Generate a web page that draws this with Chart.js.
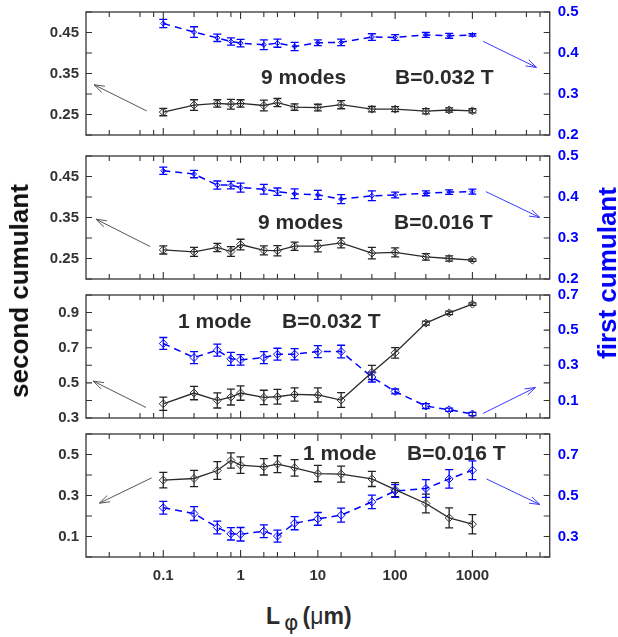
<!DOCTYPE html>
<html><head><meta charset="utf-8">
<script src="https://cdn.jsdelivr.net/npm/chart.js@4/dist/chart.umd.min.js"></script>
<style>
html,body{margin:0;padding:0;background:#fff;}
#wrap{position:relative;width:618px;height:637px;overflow:hidden;background:#fff;font-family:"Liberation Sans",Arial,sans-serif;}
#wrap canvas{position:absolute;left:0;}
.lbl{position:absolute;font-weight:bold;font-size:21px;line-height:21px;color:#2b2b2b;white-space:nowrap;}
.ytitle{position:absolute;font-weight:bold;font-size:26px;line-height:26px;white-space:nowrap;transform:translate(-50%,-50%) rotate(-90deg);}
</style></head><body>
<div id="wrap">
<canvas id="c1"></canvas><canvas id="c2"></canvas><canvas id="c3"></canvas><canvas id="c4"></canvas>
<div class="lbl" style="left:261px;top:66px">9 modes</div>
<div class="lbl" style="left:395px;top:66px">B=0.032 T</div>
<div class="lbl" style="left:258px;top:211px">9 modes</div>
<div class="lbl" style="left:394px;top:211px">B=0.016 T</div>
<div class="lbl" style="left:178px;top:310px">1 mode</div>
<div class="lbl" style="left:282px;top:310px">B=0.032 T</div>
<div class="lbl" style="left:303px;top:442px">1 mode</div>
<div class="lbl" style="left:407px;top:442px">B=0.016 T</div>
<div class="ytitle" style="left:19px;top:291px;color:#111">second cumulant</div>
<div class="ytitle" style="left:607px;top:273px;color:#0000ff">first cumulant</div>
<div style="position:absolute;left:266px;top:605px;font-weight:bold;font-size:23px;line-height:23px;color:#2b2b2b;white-space:nowrap">L<span style="font-weight:normal;font-size:22px;position:relative;top:6px;margin:0 4px 0 4px;font-family:'DejaVu Sans'">φ</span>(<span style="font-weight:normal">μ</span>m)</div>
</div>
<script>
// ---------- data ----------
const lphi = [0.1, 0.25, 0.5, 0.75, 1, 2, 3, 5, 10, 20, 50, 100, 250, 500, 1000];

const p1Second    = [0.256, 0.273, 0.277, 0.275, 0.277, 0.272, 0.279, 0.268, 0.267, 0.274, 0.263, 0.263, 0.258, 0.261, 0.259];
const p1SecondErr = [0.009, 0.013, 0.009, 0.012, 0.009, 0.013, 0.010, 0.008, 0.008, 0.010, 0.0065, 0.006, 0.0065, 0.005, 0.005];
const p1First     = [0.472, 0.451, 0.437, 0.428, 0.424, 0.420, 0.424, 0.416, 0.425, 0.426, 0.439, 0.438, 0.444, 0.442, 0.444];
const p1FirstErr  = [0.010, 0.013, 0.009, 0.009, 0.009, 0.012, 0.010, 0.010, 0.007, 0.008, 0.008, 0.007, 0.006, 0.006, 0.003];

const p2Second    = [0.271, 0.266, 0.277, 0.267, 0.284, 0.270, 0.269, 0.280, 0.280, 0.288, 0.263, 0.265, 0.254, 0.250, 0.246];
const p2SecondErr = [0.010, 0.011, 0.010, 0.012, 0.013, 0.011, 0.0125, 0.010, 0.014, 0.012, 0.014, 0.011, 0.008, 0.0065, 0.003];
const p2First     = [0.464, 0.456, 0.429, 0.429, 0.423, 0.419, 0.413, 0.408, 0.405, 0.395, 0.403, 0.405, 0.409, 0.412, 0.413];
const p2FirstErr  = [0.009, 0.009, 0.010, 0.009, 0.011, 0.012, 0.009, 0.012, 0.011, 0.011, 0.012, 0.007, 0.006, 0.0055, 0.006];

const p3Second    = [0.381, 0.442, 0.400, 0.419, 0.442, 0.417, 0.421, 0.434, 0.431, 0.402, 0.559, 0.671, 0.840, 0.898, 0.948];
const p3SecondErr = [0.038, 0.038, 0.043, 0.045, 0.041, 0.041, 0.042, 0.038, 0.040, 0.042, 0.041, 0.030, 0.011, 0.010, 0.007];
const p3First     = [0.424, 0.344, 0.386, 0.337, 0.331, 0.344, 0.363, 0.363, 0.378, 0.378, 0.233, 0.151, 0.068, 0.047, 0.023];
const p3FirstErr  = [0.034, 0.034, 0.034, 0.037, 0.030, 0.034, 0.034, 0.032, 0.034, 0.036, 0.028, 0.014, 0.014, 0.009, 0.009];

const p4Second    = [0.375, 0.383, 0.422, 0.471, 0.448, 0.440, 0.453, 0.435, 0.407, 0.404, 0.381, 0.329, 0.261, 0.191, 0.160];
const p4SecondErr = [0.038, 0.040, 0.043, 0.037, 0.040, 0.040, 0.041, 0.040, 0.040, 0.039, 0.037, 0.034, 0.046, 0.049, 0.047];
const p4First     = [0.440, 0.412, 0.344, 0.313, 0.311, 0.326, 0.302, 0.365, 0.386, 0.404, 0.469, 0.522, 0.534, 0.581, 0.623];
const p4FirstErr  = [0.031, 0.034, 0.031, 0.030, 0.033, 0.031, 0.029, 0.032, 0.031, 0.034, 0.033, 0.031, 0.043, 0.045, 0.046];

// tick values / labels
const xTickVals  = [0.02, 0.05, 0.075, 0.1, 0.25, 0.5, 0.75, 1, 2, 3, 5, 10, 20, 50, 100, 250, 500, 1000, 2000, 5000, 7500];
const xLabelVals = [0.1, 1, 10, 100, 1000];
const xLabels    = ['0.1', '1', '10', '100', '1000'];

const p1LeftLabels  = ['0.25', '0.35', '0.45'];
const p1RightLabels = ['0.2', '0.3', '0.4', '0.5'];
const p2LeftLabels  = ['0.25', '0.35', '0.45'];
const p2RightLabels = ['0.2', '0.3', '0.4', '0.5'];
const p3LeftLabels  = ['0.3', '0.5', '0.7', '0.9'];
const p3RightLabels = ['0.1', '0.3', '0.5', '0.7'];
const p4LeftLabels  = ['0.1', '0.3', '0.5'];
const p4RightLabels = ['0.3', '0.5', '0.7'];

// arrows pointing to the axes (data units)
const p1Arrows = [[0.061, 0.2587, 0.0127, 0.3226, 'yL'], [1376, 0.4284, 6750, 0.3648, 'yR']];
const p2Arrows = [[0.0673, 0.2793, 0.01346, 0.3459, 'yL'], [1493, 0.4131, 7460, 0.350, 'yR']];
const p3Arrows = [[0.0597, 0.360, 0.0124, 0.510, 'yL'], [1376, 0.026, 6540, 0.174, 'yR']];
const p4Arrows = [[0.0708, 0.386, 0.01486, 0.2624, 'yL'], [1517, 0.581, 7460, 0.456, 'yR']];

// ---------- drawing ----------
Chart.defaults.font.family = '"Liberation Sans", Arial, sans-serif';
const BLACK = '#2b2b2b', BLUE = '#0000ff';

const errPlugin = {
  id: 'errbars',
  beforeDatasetsDraw(chart) {
    const ctx = chart.ctx, xs = chart.scales.x, a = chart.chartArea;
    ctx.save();
    ctx.beginPath(); ctx.rect(a.left, a.top, a.right - a.left, a.bottom - a.top); ctx.clip();
    chart.data.datasets.forEach(ds => {
      const ys = chart.scales[ds.yAxisID];
      ctx.strokeStyle = ds.errColor; ctx.lineWidth = 1.3;
      ds.data.forEach((p, i) => {
        const e = ds.errorBars[i];
        const px = xs.getPixelForValue(p.x);
        const yt = ys.getPixelForValue(p.y + e), yb = ys.getPixelForValue(p.y - e);
        ctx.beginPath();
        ctx.moveTo(px, yt); ctx.lineTo(px, yb);
        ctx.moveTo(px - 4, yt); ctx.lineTo(px + 4, yt);
        ctx.moveTo(px - 4, yb); ctx.lineTo(px + 4, yb);
        ctx.stroke();
      });
    });
    ctx.restore();
  },
  afterDatasetsDraw(chart) {
    const ctx = chart.ctx, xs = chart.scales.x, a = chart.chartArea;
    const arrows = chart.options.plugins.errbars.arrows || [];
    ctx.save();
    arrows.forEach(ar => {
      const ys = chart.scales[ar[4]];
      const x0 = xs.getPixelForValue(ar[0]), y0 = ys.getPixelForValue(ar[1]);
      const x1 = xs.getPixelForValue(ar[2]), y1 = ys.getPixelForValue(ar[3]);
      ctx.strokeStyle = ar[4] === 'yL' ? '#555' : '#3a3aff';
      ctx.lineWidth = 1;
      ctx.beginPath(); ctx.moveTo(x0, y0); ctx.lineTo(x1, y1); ctx.stroke();
      const ang = Math.atan2(y0 - y1, x0 - x1), L = 11, s = 0.32;
      ctx.beginPath();
      ctx.moveTo(x1 + L * Math.cos(ang + s), y1 + L * Math.sin(ang + s));
      ctx.lineTo(x1, y1);
      ctx.lineTo(x1 + L * Math.cos(ang - s), y1 + L * Math.sin(ang - s));
      ctx.stroke();
    });
    // frame and inward ticks
    ctx.strokeStyle = '#444'; ctx.lineWidth = 1.4;
    ctx.strokeRect(a.left, a.top, a.right - a.left, a.bottom - a.top);
    ctx.lineWidth = 1.1; ctx.strokeStyle = '#333';
    ctx.beginPath();
    xs.ticks.forEach(t => {
      const px = xs.getPixelForValue(t.value);
      const len = xLabelVals.includes(t.value) ? 7 : 5;
      ctx.moveTo(px, a.bottom); ctx.lineTo(px, a.bottom - len);
      ctx.moveTo(px, a.top); ctx.lineTo(px, a.top + len);
    });
    chart.scales.yL.ticks.forEach(t => {
      const py = chart.scales.yL.getPixelForValue(t.value);
      ctx.moveTo(a.left, py); ctx.lineTo(a.left + 6, py);
    });
    chart.scales.yR.ticks.forEach(t => {
      const py = chart.scales.yR.getPixelForValue(t.value);
      ctx.moveTo(a.right, py); ctx.lineTo(a.right - 6, py);
    });
    ctx.stroke();
    ctx.restore();
  }
};

function labelCb(labels) {
  return v => {
    const f = labels.find(l => Math.abs(parseFloat(l) - v) < 1e-6);
    return f === undefined ? '' : f;
  };
}

const PAD = 20;
function makePanel(id, top, h, xH, showX, second, secondErr, first, firstErr, yl, yr, lLabels, rLabels, arrows, blueR) {
  const cv = document.getElementById(id);
  cv.width = 618; cv.height = PAD + h + xH;
  cv.style.top = (top - PAD) + 'px';
  new Chart(cv, {
    type: 'line',
    data: {
      datasets: [
        {
          data: lphi.map((x, i) => ({x: x, y: second[i]})),
          errorBars: secondErr, errColor: '#222', yAxisID: 'yL',
          borderColor: BLACK, borderWidth: 1.3, tension: 0,
          pointStyle: 'rectRot', pointRadius: 4, pointBorderColor: '#333', pointBorderWidth: 1,
          pointBackgroundColor: 'rgba(0,0,0,0)'
        },
        {
          data: lphi.map((x, i) => ({x: x, y: first[i]})),
          errorBars: firstErr, errColor: BLUE, yAxisID: 'yR',
          borderColor: BLUE, borderWidth: 1.5, borderDash: [7, 5], tension: 0,
          pointStyle: 'rectRot', pointRadius: blueR, pointBorderColor: BLUE, pointBorderWidth: 1,
          pointBackgroundColor: 'rgba(0,0,0,0)'
        }
      ]
    },
    options: {
      responsive: false, animation: false, devicePixelRatio: 1,
      layout: {padding: {top: PAD, left: 0, right: 0, bottom: 0}},
      plugins: {legend: {display: false}, tooltip: {enabled: false}, errbars: {arrows: arrows}},
      scales: {
        x: {
          type: 'logarithmic', min: 0.01, max: 10000, position: 'bottom',
          grid: {display: false, drawTicks: false}, border: {display: false},
          afterBuildTicks: s => { s.ticks = xTickVals.map(v => ({value: v})); },
          afterFit: s => { s.height = xH; },
          ticks: {
            display: showX, autoSkip: false, maxRotation: 0, padding: 10,
            color: '#333', font: {size: 15, weight: 'bold'},
            callback: v => { const k = xLabelVals.indexOf(v); return k < 0 ? '' : xLabels[k]; }
          }
        },
        yL: {
          type: 'linear', position: 'left', min: yl[0], max: yl[1],
          grid: {display: false, drawTicks: false}, border: {display: false},
          afterFit: s => { s.width = 86; },
          ticks: {stepSize: yl[2], padding: 7, color: '#333', font: {size: 15, weight: 'bold'}, autoSkip: false, callback: labelCb(lLabels)}
        },
        yR: {
          type: 'linear', position: 'right', min: yr[0], max: yr[1],
          grid: {display: false, drawTicks: false}, border: {display: false},
          afterFit: s => { s.width = 68.3; },
          ticks: {stepSize: yr[2], padding: 8, color: BLUE, font: {size: 15, weight: 'bold'}, autoSkip: false, callback: labelCb(rLabels)}
        }
      }
    },
    plugins: [errPlugin]
  });
}

makePanel('c1', 12, 123, 20, false, p1Second, p1SecondErr, p1First, p1FirstErr, [0.2, 0.5, 0.05], [0.2, 0.5, 0.05], p1LeftLabels, p1RightLabels, p1Arrows, 2.5);
makePanel('c2', 156, 123, 20, false, p2Second, p2SecondErr, p2First, p2FirstErr, [0.2, 0.5, 0.05], [0.2, 0.5, 0.05], p2LeftLabels, p2RightLabels, p2Arrows, 2.5);
makePanel('c3', 295, 123, 20, false, p3Second, p3SecondErr, p3First, p3FirstErr, [0.3, 1.0, 0.1], [0.0, 0.7, 0.1], p3LeftLabels, p3RightLabels, p3Arrows, 4);
makePanel('c4', 434, 123, 45, true, p4Second, p4SecondErr, p4First, p4FirstErr, [0.0, 0.6, 0.1], [0.2, 0.8, 0.1], p4LeftLabels, p4RightLabels, p4Arrows, 4);
</script>
</body></html>
